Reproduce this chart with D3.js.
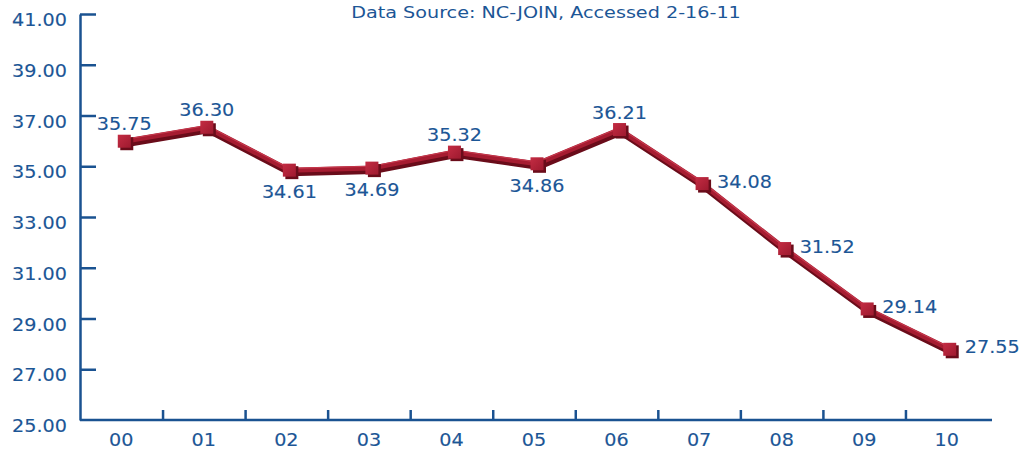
<!DOCTYPE html>
<html>
<head>
<meta charset="utf-8">
<script src="https://d3js.org/d3.v7.min.js"></script>
<style>
  body { margin: 0; background: #fff; }
  svg { display: block; }
  .axis path, .axis line { stroke: #1a5291; stroke-width: 2.5; }
  .axis text, .lbl {
    fill: #1c5696; font-size: 17px;
    font-family: "DejaVu Sans", Verdana, sans-serif;
    stroke: #1c5696; stroke-width: 0.12;
  }
</style>
</head>
<body>
<svg width="1020" height="451"></svg>
<script>
// data
const years = ['00', '01', '02', '03', '04', '05', '06', '07', '08', '09', '10'];
const rates = [35.75, 36.30, 34.61, 34.69, 35.32, 34.86, 36.21, 34.08, 31.52, 29.14, 27.55];
const yTicks = [25, 27, 29, 31, 33, 35, 37, 39, 41];
const labelSide = ['above', 'above', 'below', 'below', 'above', 'below', 'above', 'right', 'right', 'right', 'right'];
const sourceNote = 'Data Source: NC-JOIN, Accessed 2-16-11';

const svg = d3.select('svg');
const plotLeft = 80, plotRight = 988, plotTop = 14, plotBottom = 420;
const stretch = 1.13;   // the original text is drawn a little wide

const data = years.map((yr, i) => ({ year: yr, rate: rates[i], side: labelSide[i] }));

const x = d3.scaleBand().domain(years).range([plotLeft, plotRight]);
const y = d3.scaleLinear().domain([25, 41]).range([plotBottom, plotTop]);
const cx = d => x(d.year) + x.bandwidth() / 2;

// y axis, ticks point inward
const yAxis = svg.append('g').attr('class', 'axis')
    .attr('transform', `translate(${plotLeft},0)`)
    .call(d3.axisLeft(y).tickValues(yTicks).tickFormat(d3.format('.2f'))
        .tickSizeInner(-16).tickSizeOuter(0));
yAxis.selectAll('.tick').filter(d => d === 25).select('line').remove();
yAxis.selectAll('text')
    .attr('x', null).attr('dy', null)
    .attr('text-anchor', 'end')
    .attr('transform', `translate(-13,11.5) scale(${stretch},1)`);

// x axis: labels in the middle of each band
const xAxis = svg.append('g').attr('class', 'axis')
    .attr('transform', `translate(0,${plotBottom})`)
    .call(d3.axisBottom(x).tickSize(0).tickSizeOuter(0));
xAxis.selectAll('.tick line').remove();
xAxis.select('.domain').attr('d', `M${plotLeft},0H${plotRight + 4}`);
xAxis.selectAll('text')
    .attr('y', null).attr('dy', null)
    .attr('transform', `translate(0,26) scale(${stretch},1)`);

// small ticks between bands
const xEdge = d3.scaleLinear().domain([0, years.length]).range([plotLeft, plotRight]);
const xTicks = svg.append('g').attr('class', 'axis')
    .attr('transform', `translate(0,${plotBottom})`)
    .call(d3.axisTop(xEdge).tickValues(d3.range(1, years.length)).tickSize(10).tickFormat(''));
xTicks.select('.domain').remove();

// title
svg.append('text')
    .attr('class', 'lbl')
    .attr('text-anchor', 'middle')
    .style('font-size', '16px')
    .style('stroke-width', 0)
    .attr('transform', `translate(546,18) scale(1.2,1)`)
    .text(sourceNote);

// gradient for the marker faces
const grad = svg.append('defs').append('linearGradient')
    .attr('id', 'face').attr('x1', 0).attr('y1', 0).attr('x2', 1).attr('y2', 1);
grad.append('stop').attr('offset', '0%').attr('stop-color', '#c42c43');
grad.append('stop').attr('offset', '100%').attr('stop-color', '#9e1a2f');

// the series, pushed a bit up/right like the 3d depth of the original
const g = svg.append('g').attr('transform', 'translate(3,-6)');
const line = d3.line().x(cx).y(d => y(d.rate));

g.append('path').datum(data)
    .attr('d', line)
    .attr('transform', 'translate(1.5,3)')
    .attr('fill', 'none')
    .attr('stroke', '#6a0c1a')
    .attr('stroke-width', 6)
    .attr('stroke-linejoin', 'miter');
g.append('path').datum(data)
    .attr('d', line)
    .attr('fill', 'none')
    .attr('stroke', '#a61c31')
    .attr('stroke-width', 5)
    .attr('stroke-linejoin', 'miter');
g.append('path').datum(data)
    .attr('d', line)
    .attr('transform', 'translate(0,-1.8)')
    .attr('fill', 'none')
    .attr('stroke', '#c73a4e')
    .attr('stroke-width', 1.1);

const s = 13;
g.selectAll('rect.back').data(data).join('rect')
    .attr('class', 'back')
    .attr('x', d => cx(d) - s / 2 + 2.5)
    .attr('y', d => y(d.rate) - s / 2 + 2.5)
    .attr('width', s).attr('height', s)
    .attr('fill', '#6a0c1a');
g.selectAll('rect.face').data(data).join('rect')
    .attr('class', 'face')
    .attr('x', d => cx(d) - s / 2)
    .attr('y', d => y(d.rate) - s / 2)
    .attr('width', s).attr('height', s)
    .attr('fill', 'url(#face)');

// value labels
g.selectAll('text.val').data(data).join('text')
    .attr('class', 'lbl val')
    .attr('text-anchor', d => d.side === 'right' ? 'start' : 'middle')
    .attr('transform', d => {
        let tx = cx(d), ty = y(d.rate);
        if (d.side === 'above') ty -= 11;
        else if (d.side === 'below') ty += 28;
        else { tx += 15; ty += 4; }
        return `translate(${tx},${ty}) scale(${stretch},1)`;
    })
    .text(d => d.rate.toFixed(2));
</script>
</body>
</html>
